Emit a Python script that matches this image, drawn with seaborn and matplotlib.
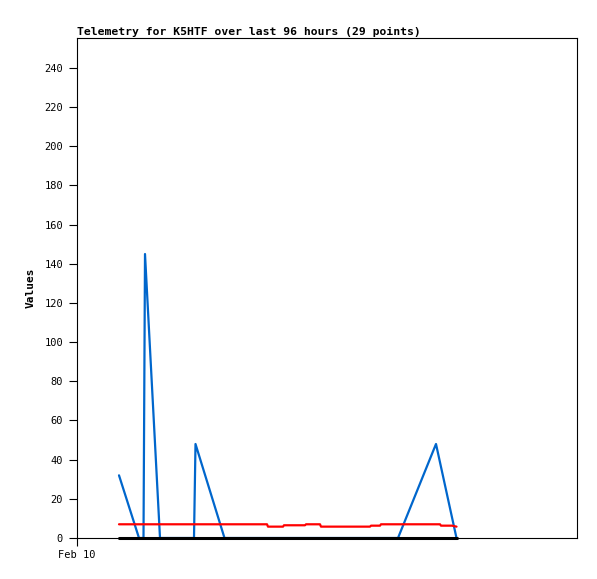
import matplotlib
matplotlib.use("Agg")
import matplotlib.pyplot as plt
import seaborn as sns

# hours since Feb 10 00:00
hours = [8.4, 12.4, 13.3, 13.6, 16.6, 19.6, 23.4, 23.7, 29.5, 32.6,
         38.0, 38.2, 41.2, 41.4, 45.6, 45.8, 48.6, 48.8, 53.6, 58.6,
         58.8, 60.6, 60.8, 64.2, 71.8, 72.6, 72.8, 75.0, 75.9]
blue = [32, 0, 0, 145, 0, 0, 0, 48, 0, 0,
        0, 0, 0, 0, 0, 0, 0, 0, 0, 0,
        0, 0, 0, 0, 48, None, None, None, 0]
red = [7, 7, 7, 7, 7, 7, 7, 7, 7, 7,
       7, 5.8, 5.8, 6.5, 6.5, 7, 7, 5.8, 5.8, 5.8,
       6.3, 6.3, 7, 7, 7, 7, 6.3, 6.3, 5.8]
black = [0] * 29
y_ticks = list(range(0, 241, 20))
x_tick_labels = ["Feb 10"]
title = "Telemetry for K5HTF over last 96 hours (29 points)"

blue_x = [h for h, v in zip(hours, blue) if v is not None]
blue_y = [v for v in blue if v is not None]

sns.set_style("white")
plt.rcParams["font.family"] = ["DejaVu Sans Mono"]
plt.rcParams["text.color"] = "black"
plt.rcParams["axes.labelcolor"] = "black"
plt.rcParams["xtick.color"] = "black"
plt.rcParams["ytick.color"] = "black"

fig = plt.figure(figsize=(5.97, 5.79), dpi=100)
ax = fig.add_axes([77/597, 41/579, 500/597, 500/579])

sns.lineplot(x=blue_x, y=blue_y, ax=ax, color="#0066cc", lw=1.6,
             sort=False, estimator=None)
sns.lineplot(x=hours, y=red, ax=ax, color="#ff0000", lw=1.6,
             sort=False, estimator=None)
sns.lineplot(x=hours, y=black, ax=ax, color="#000000", lw=2.2,
             sort=False, estimator=None, clip_on=False)

ax.set_xlim(0, 100)
ax.set_ylim(0, 255.3)
ax.set_yticks(y_ticks)
ax.set_yticklabels([str(v) for v in y_ticks], fontsize=7.5, color="black")
ax.set_xticks([0])
ax.set_xticklabels(x_tick_labels, fontsize=7.5, color="black")
ax.tick_params(axis="both", which="major", direction="out", length=6, width=0.8,
               color="black", left=True, bottom=True, pad=4)
ax.tick_params(axis="x", pad=3)
for s in ax.spines.values():
    s.set_color("black")
    s.set_linewidth(0.8)
ax.set_ylabel("Values", fontsize=8, fontweight="bold", labelpad=6, color="black")
ax.set_xlabel("")
ax.set_title(title, loc="left", fontsize=8.2, fontweight="bold", pad=2, color="black")

fig.savefig("out.png", dpi=100)
